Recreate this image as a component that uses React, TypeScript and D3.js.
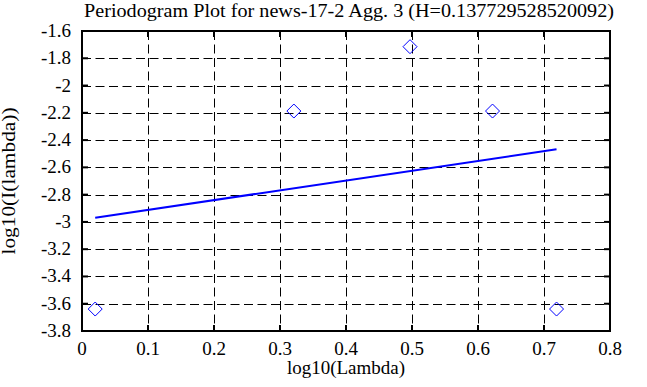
import React from 'react'
import * as d3 from 'd3'

// values
const logLambda = [0.020, 0.321, 0.497, 0.622, 0.719]
const logI = [-3.639, -2.187, -1.715, -2.187, -3.639]
const fitX = [0.020, 0.719]
const fitY = [-2.969, -2.468]
const xTicks = [0, 0.1, 0.2, 0.3, 0.4, 0.5, 0.6, 0.7, 0.8]
const yTicks = [-1.6, -1.8, -2, -2.2, -2.4, -2.6, -2.8, -3, -3.2, -3.4, -3.6, -3.8]

const title = 'Periodogram Plot for news-17-2 Agg. 3 (H=0.137729528520092)'

const width = 647
const height = 387
const margin = { top: 31, right: 37, bottom: 56, left: 82 }

// plain hyphen for the minus, like the original
const fmt = (v: number) => d3.format('~g')(v).replace('\u2212', '-')

const App = () => {
  const x = d3.scaleLinear().domain([0, 0.8]).range([margin.left, width - margin.right])
  const y = d3.scaleLinear().domain([-3.8, -1.6]).range([height - margin.bottom, margin.top])
  const [x0, x1] = x.range()
  const [y0, y1] = y.range()
  const font = 'Liberation Serif, Times New Roman, serif'

  const line = d3.line<number>()
    .x((d, i) => x(fitX[i]))
    .y(d => y(d))

  const r = 7
  return (
    <svg width={width} height={height} style={{ position: 'absolute', left: 0, top: 0, background: '#fff' }}
      fontFamily={font}>
      <rect x={0} y={0} width={width} height={height} fill="#fff" />
      {/* grid */}
      <g stroke="#000" strokeWidth={1} strokeDasharray="9,4.5">
        {xTicks.slice(1, -1).map(t => (
          <line key={'gx' + t} x1={Math.round(x(t)) + 0.5} x2={Math.round(x(t)) + 0.5} y1={y1} y2={y0} />
        ))}
        {yTicks.slice(1, -1).map(t => (
          <line key={'gy' + t} x1={x0} x2={x1} y1={Math.round(y(t)) + 0.5} y2={Math.round(y(t)) + 0.5} />
        ))}
      </g>
      {/* ticks */}
      <g stroke="#000" strokeWidth={2}>
        {xTicks.map(t => (
          <g key={'tx' + t}>
            <line x1={x(t)} x2={x(t)} y1={y1} y2={y1 + 6} />
            <line x1={x(t)} x2={x(t)} y1={y0} y2={y0 - 6} />
          </g>
        ))}
        {yTicks.map(t => (
          <g key={'ty' + t}>
            <line x1={x0} x2={x0 + 6} y1={y(t)} y2={y(t)} />
            <line x1={x1} x2={x1 - 6} y1={y(t)} y2={y(t)} />
          </g>
        ))}
      </g>
      {/* frame */}
      <rect x={x0} y={y1} width={x1 - x0} height={y0 - y1} fill="none" stroke="#000" strokeWidth={2} />
      {/* fit line */}
      <path d={line(fitY) ?? ''} fill="none" stroke="#0000ff" strokeWidth={2} />
      {/* points */}
      <g fill="none" stroke="#0000ff" strokeWidth={1}>
        {logLambda.map((v, i) => {
          const cx = x(v)
          const cy = y(logI[i])
          return <path key={'p' + i} d={`M${cx},${cy - r}L${cx + r},${cy}L${cx},${cy + r}L${cx - r},${cy}Z`} />
        })}
      </g>
      {/* tick labels */}
      <g fontSize={19} fill="#000">
        {xTicks.map(t => (
          <text key={'lx' + t} x={x(t)} y={y0 + 24} textAnchor="middle">{fmt(t)}</text>
        ))}
        {yTicks.map(t => (
          <text key={'ly' + t} x={x0 - 11} y={y(t) + 6} textAnchor="end">{fmt(t)}</text>
        ))}
      </g>
      <text x={349} y={17} textAnchor="middle" fontSize={18} textLength={530} lengthAdjust="spacingAndGlyphs">{title}</text>
      <text x={(x0 + x1) / 2} y={374} textAnchor="middle" fontSize={18} textLength={118} lengthAdjust="spacingAndGlyphs">log10(Lambda)</text>
      <text transform={`translate(15,${(y0 + y1) / 2}) rotate(-90)`} textAnchor="middle" fontSize={18}
        textLength={147} lengthAdjust="spacingAndGlyphs">log10(I(lambda))</text>
    </svg>
  )
}

export default App
